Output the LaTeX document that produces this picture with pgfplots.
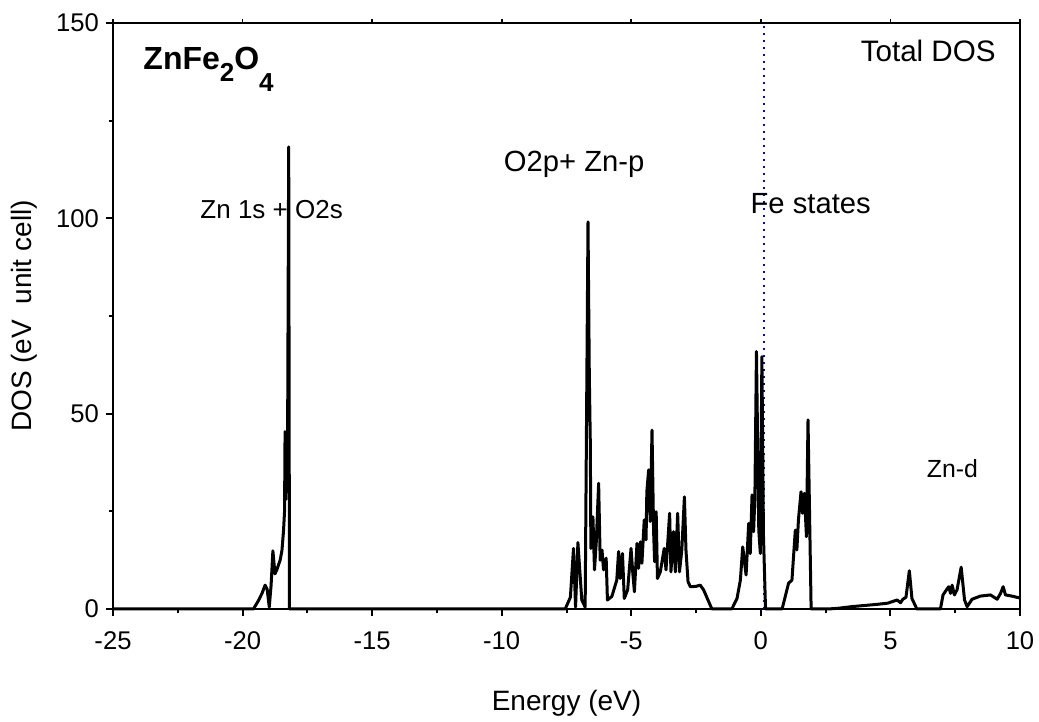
\documentclass[border=0pt]{standalone}
\usepackage{fontspec}
\setmainfont{Liberation Sans}
\usepackage{pgfplots}
\pgfplotsset{compat=1.18}
\begin{document}
\begin{tikzpicture}
\path[use as bounding box] (-56.5pt,-56.5pt) rectangle (463pt,304.5pt);
\begin{axis}[
  at={(0,0)}, anchor=south west,
  scale only axis, width=453.5pt, height=293pt,
  xmin=-25, xmax=10, ymin=0, ymax=150,
  xtick={-25,-20,-15,-10,-5,0,5,10},
  ytick={0,50,100,150},
  minor x tick num=1, minor y tick num=1,
  tick align=outside, xtick pos=left, ytick pos=left,
  major tick length=3.5pt, minor tick length=2.2pt,
  every tick/.style={black, line width=1pt},
  axis line style={line width=1.3pt},
  /pgf/number format/assume math mode=true,
  tick label style={font=\fontsize{12.8}{15}\selectfont},
  xticklabel style={yshift=-4.5pt},
  xlabel={Energy (eV)},
  ylabel={DOS (eV\ \ unit cell)},
  label style={font=\fontsize{14}{16}\selectfont},
  xlabel style={at={(axis description cs:0.5,0)}, anchor=center, yshift=-47pt},
  ylabel style={at={(axis description cs:-0.0981,0.5)}, anchor=center},
  clip=false,
]
\addplot[blue, line width=1pt, dash pattern=on 1.2pt off 2.3pt] coordinates {(0.12,0) (0.12,150)};
\addplot[black, line width=1.5pt, line join=round] coordinates {
(-25,0) (-19.58,0) (-19.4,2) (-19.25,4) (-19.13,6.1) (-19.05,5) (-18.97,0.5) (-18.9,6) (-18.83,14.9) (-18.75,9) (-18.68,10) (-18.55,12.5) (-18.48,15) (-18.42,20) (-18.38,25) (-18.36,45.4) (-18.33,28) (-18.30,45) (-18.27,30) (-18.22,118.3) (-18.19,0)
(-7.55,0) (-7.35,3) (-7.23,15.5) (-7.15,0.5) (-7.06,17) (-6.91,2.3) (-6.78,0.5) (-6.67,99.1) (-6.62,60) (-6.58,42) (-6.56,15.5) (-6.48,23.6) (-6.42,10) (-6.35,17.2) (-6.26,32.2) (-6.2,12.5) (-6.13,15.1) (-6.07,10) (-5.97,13) (-5.92,2.3) (-5.75,3.2) (-5.56,7.4) (-5.49,14.7) (-5.43,7.8) (-5.34,14.2) (-5.27,2.7) (-5.14,4.9) (-5.01,15.5) (-4.94,9.1) (-4.88,4.4) (-4.78,16.8) (-4.72,10.4) (-4.65,17.2) (-4.59,11.7) (-4.50,22.8) (-4.43,17.7) (-4.40,30) (-4.33,35.6) (-4.27,22.4) (-4.20,45.8) (-4.14,20.2) (-4.10,12.1) (-4.04,24.9) (-3.99,7.8) (-3.88,9.5) (-3.73,15.5) (-3.66,10) (-3.52,24.5) (-3.47,9.5) (-3.37,19.8) (-3.30,9.5) (-3.21,24.5) (-3.14,9.5) (-3.05,15.1) (-2.95,28.7) (-2.89,15.1) (-2.81,7) (-2.72,5.7) (-2.5,5.8) (-2.34,6.1) (-2.21,4.9) (-1.89,0)
(-1.12,0) (-0.92,2.7) (-0.79,7.4) (-0.70,15.9) (-0.57,8.7) (-0.47,21.9) (-0.41,14.2) (-0.34,29.2) (-0.28,19.8) (-0.23,28.7) (-0.17,65.9) (-0.08,20.2) (-0.02,14.2) (0.04,64.6) (0.10,19) (0.18,0) (0.82,0) (1.07,6.6) (1.20,7.4) (1.33,20.2) (1.39,15.1) (1.45,22.8) (1.55,30) (1.61,24.5) (1.68,29.6) (1.76,18.5) (1.82,48.4) (1.94,0)
(2.6,0) (3.0,0.2) (3.5,0.6) (4.0,0.9) (4.5,1.2) (4.9,1.5) (5.26,2.3) (5.39,1.6) (5.48,2.5) (5.6,3) (5.73,9.8) (5.83,2.7) (6.02,0) (6.93,0) (7.03,3.6) (7.16,4.9) (7.25,5.7) (7.32,4) (7.38,6.1) (7.47,3.6) (7.57,4.9) (7.73,10.7) (7.86,2.3) (7.96,0.6) (8.15,2.5) (8.47,3.3) (8.86,3.6) (9.12,2.5) (9.25,4) (9.35,5.7) (9.44,3.6) (9.69,3.3) (10,2.8)
};
\node[anchor=base west, inner sep=0, font=\fontsize{16}{18}\selectfont\bfseries] at (axis cs:-23.84,138) {ZnFe\raisebox{-6pt}{\fontsize{13}{13}\selectfont\bfseries 2}O\raisebox{-11pt}{\fontsize{13}{13}\selectfont\bfseries 4}};
\node[anchor=base west, inner sep=0, font=\fontsize{14.8}{17}\selectfont] at (axis cs:3.84,140.1) {Total DOS};
\node[anchor=base west, inner sep=0, font=\fontsize{13}{15}\selectfont] at (axis cs:-21.64,100.0) {Zn 1s + O2s};
\node[anchor=base west, inner sep=0, font=\fontsize{14.6}{17}\selectfont] at (axis cs:-9.93,111.9) {O2p+ Zn-p};
\node[anchor=base west, inner sep=0, font=\fontsize{14.6}{17}\selectfont] at (axis cs:-0.41,101.3) {Fe states};
\node[anchor=base west, inner sep=0, font=\fontsize{12.4}{15}\selectfont] at (axis cs:6.39,33.7) {Zn-d};
\end{axis}
\begin{axis}[
  at={(0,0)}, anchor=south west,
  scale only axis, width=453.5pt, height=293pt,
  xmin=-25, xmax=10, ymin=0, ymax=150,
  axis x line*=top, hide y axis,
  xtick={-25,-20,-15,-10,-5,0,5,10}, xticklabels={},
  tick align=outside, major tick length=2pt,
  every tick/.style={black, line width=0.8pt},
  axis line style={line width=1.3pt, -},
]
\end{axis}
\end{tikzpicture}
\end{document}
